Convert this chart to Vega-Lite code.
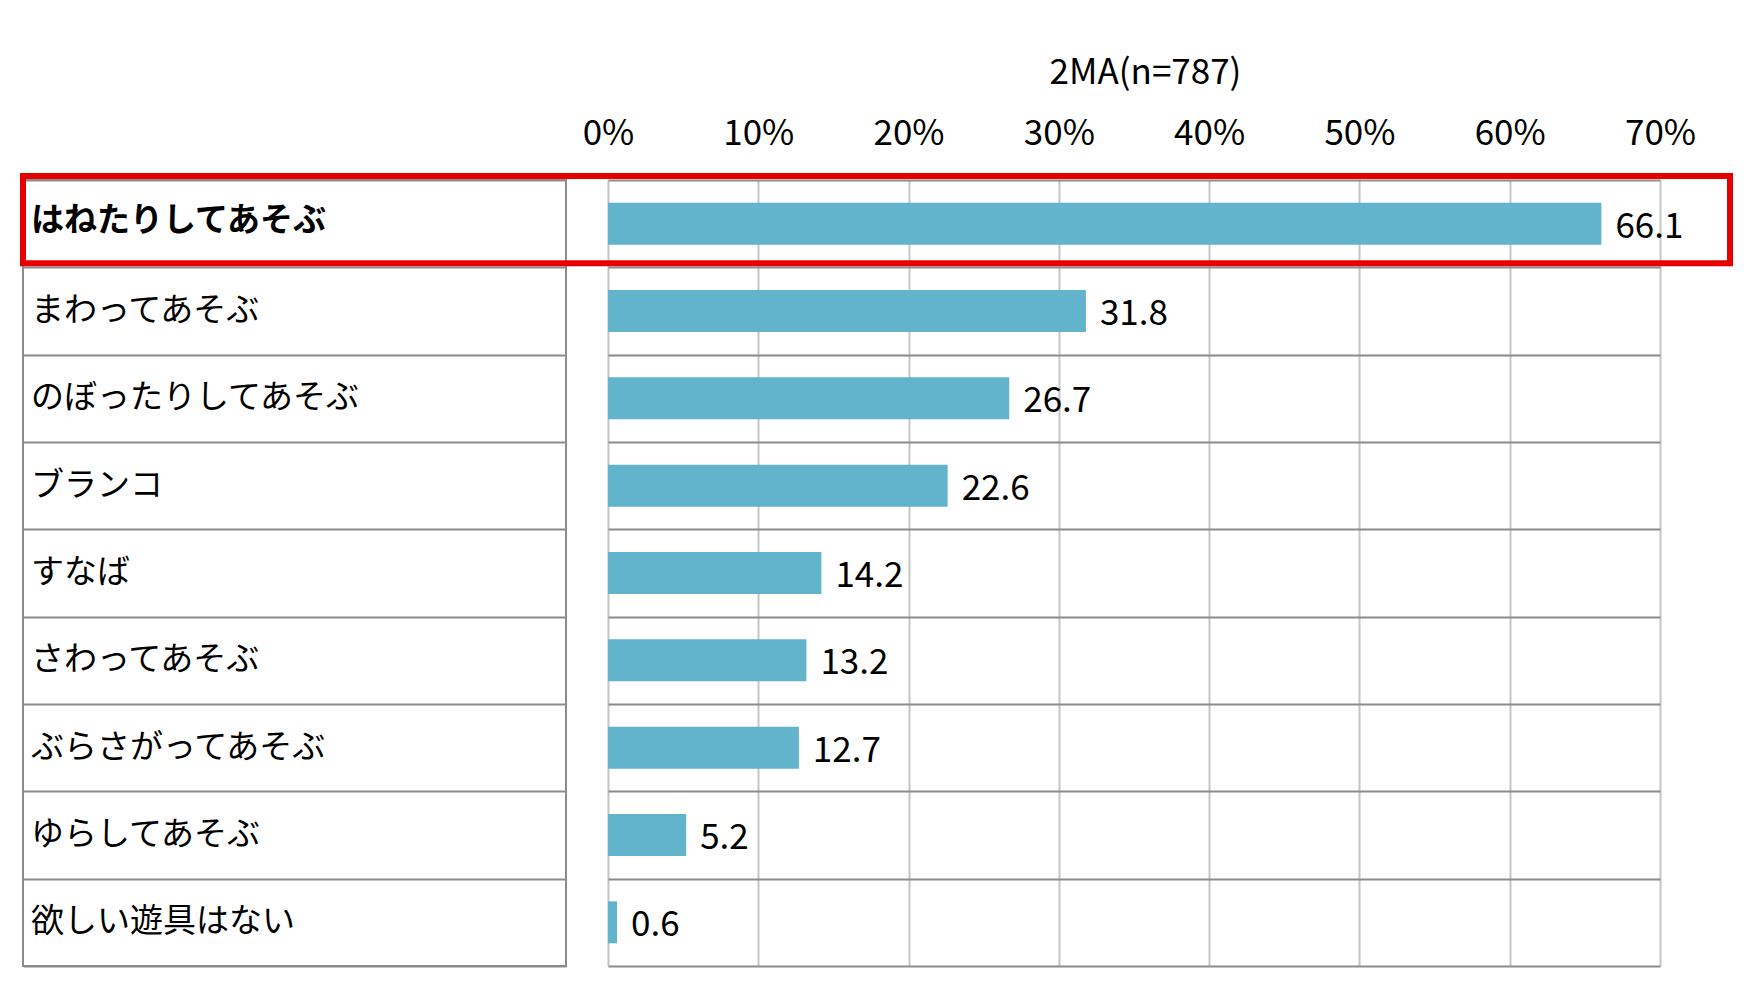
{
  "$schema": "https://vega.github.io/schema/vega-lite/v6.json",
  "background": "white",
  "padding": {"left": 20, "top": 55, "right": 5, "bottom": 5},
  "bounds": "flush",
  "config": {"font": "Noto Sans CJK JP", "view": {"stroke": null}},
  "data": {"values": [
    {"item": "はねたりしてあそぶ", "value": 66.1},
    {"item": "まわってあそぶ", "value": 31.8},
    {"item": "のぼったりしてあそぶ", "value": 26.7},
    {"item": "ブランコ", "value": 22.6},
    {"item": "すなば", "value": 14.2},
    {"item": "さわってあそぶ", "value": 13.2},
    {"item": "ぶらさがってあそぶ", "value": 12.7},
    {"item": "ゆらしてあそぶ", "value": 5.2},
    {"item": "欲しい遊具はない", "value": 0.6}
  ]},
  "spacing": 42,
  "hconcat": [
    {
      "width": 543,
      "height": 786,
      "view": {"stroke": "#8c8c8c", "strokeWidth": 2},
      "encoding": {
        "y": {"field": "item", "type": "nominal", "sort": null,
          "scale": {"domain": ["はねたりしてあそぶ", "まわってあそぶ", "のぼったりしてあそぶ", "ブランコ", "すなば", "さわってあそぶ", "ぶらさがってあそぶ", "ゆらしてあそぶ", "欲しい遊具はない"], "paddingInner": 0, "paddingOuter": 0},
          "axis": {"grid": true, "tickBand": "extent", "labels": false, "ticks": false, "domain": false, "title": null, "gridColor": "#8c8c8c", "gridWidth": 2}}
      },
      "layer": [
        {
          "transform": [{"filter": "datum.item !== 'はねたりしてあそぶ'"}],
          "mark": {"type": "text", "align": "left", "baseline": "middle", "dx": 8, "fontSize": 33, "color": "black"},
          "encoding": {
            "x": {"datum": 0, "type": "quantitative", "scale": {"domain": [0, 1]}, "axis": null},
            "text": {"field": "item"}
          }
        },
        {
          "transform": [{"filter": "datum.item === 'はねたりしてあそぶ'"}],
          "mark": {"type": "text", "align": "left", "baseline": "middle", "dx": 8, "dy": -3, "fontSize": 33, "fontWeight": "bold", "color": "black"},
          "encoding": {
            "x": {"datum": 0, "type": "quantitative", "scale": {"domain": [0, 1]}, "axis": null},
            "text": {"field": "item"}
          }
        }
      ]
    },
    {
      "width": 1052,
      "height": 786,
      "encoding": {
        "y": {"field": "item", "type": "nominal", "sort": null,
          "scale": {"domain": ["はねたりしてあそぶ", "まわってあそぶ", "のぼったりしてあそぶ", "ブランコ", "すなば", "さわってあそぶ", "ぶらさがってあそぶ", "ゆらしてあそぶ", "欲しい遊具はない"], "paddingInner": 0, "paddingOuter": 0},
          "axis": {"grid": true, "tickBand": "extent", "labels": false, "ticks": false, "domain": false, "title": null, "gridColor": "#8c8c8c", "gridWidth": 2}}
      },
      "layer": [
        {
          "mark": {"type": "bar", "color": "#62B3CC", "height": {"band": 0.48}},
          "encoding": {
            "x": {"field": "value", "type": "quantitative",
              "scale": {"domain": [0, 70]},
              "axis": {"orient": "top", "values": [0, 10, 20, 30, 40, 50, 60, 70],
                "labelExpr": "datum.value + '%'", "labelFlush": false, "labelOverlap": false, "grid": true, "gridColor": "#c6c6c6", "gridWidth": 2,
                "ticks": false, "domain": false, "labelFontSize": 35, "labelColor": "black", "labelPadding": 29,
                "title": "2MA(n=787)", "titleX": 537, "titleFontSize": 35, "titleFontWeight": "normal", "titleColor": "black", "titlePadding": 26}}
          }
        },
        {
          "mark": {"type": "text", "align": "left", "baseline": "middle", "dx": 14, "dy": 3, "fontSize": 35, "color": "black"},
          "encoding": {
            "x": {"field": "value", "type": "quantitative"},
            "text": {"field": "value", "type": "quantitative", "format": ".1f"}
          }
        },
        {
          "transform": [{"filter": "datum.item === 'はねたりしてあそぶ'"}],
          "mark": {"type": "rect", "filled": false, "color": "#e60000", "strokeWidth": 6, "xOffset": -585, "x2Offset": 70, "yOffset": -4, "y2Offset": -4},
          "encoding": {
            "x": {"datum": 0, "type": "quantitative"},
            "x2": {"datum": 70}
          }
        }
      ]
    }
  ]
}
